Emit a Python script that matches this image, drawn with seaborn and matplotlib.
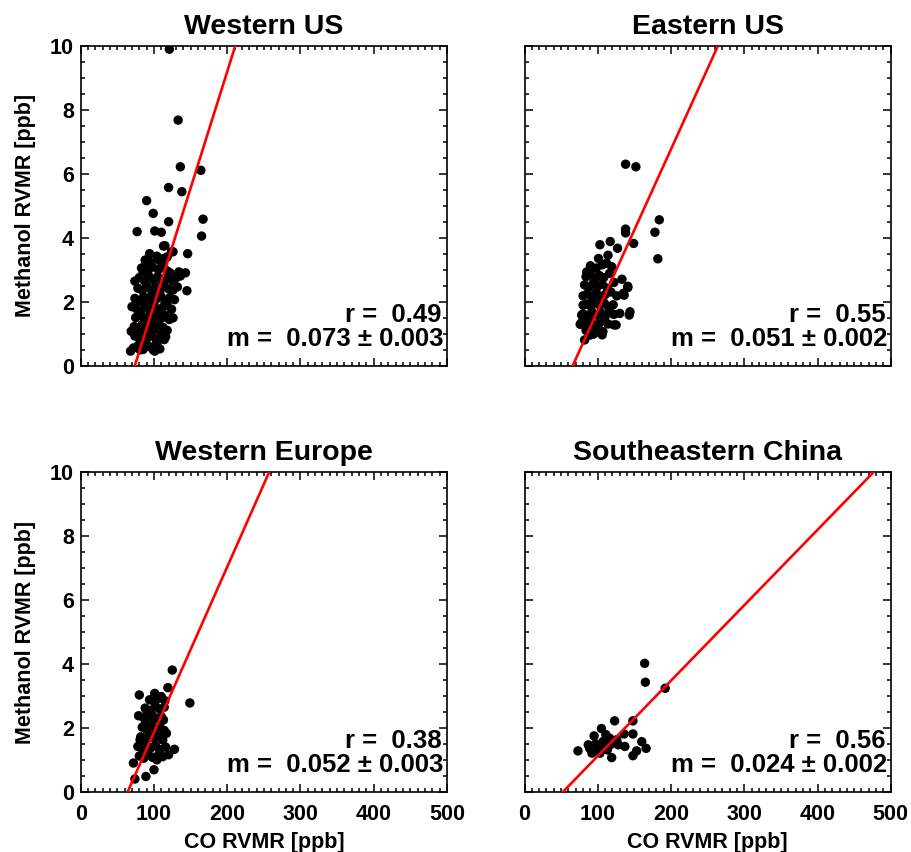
import numpy as np
import pandas as pd
import matplotlib
matplotlib.use("Agg")
import matplotlib.pyplot as plt
from matplotlib.ticker import MultipleLocator
import seaborn as sns

# ---------------- data ----------------
regions = ["Western US", "Eastern US", "Western Europe", "Southeastern China"]

wus_co = [121, 133, 136, 164, 120, 138, 90, 99, 167, 120, 77, 101, 110, 165, 115, 126, 94, 104, 146, 118,
          89, 85, 143, 134, 145, 74, 69, 68, 101, 114, 113, 124, 122, 136, 70, 81, 99, 126,
          72, 78, 85, 90, 95, 104, 108,
          74, 80, 86, 92, 97, 103, 110, 116,
          73, 79, 84, 90, 95, 100, 106, 112, 118,
          75, 81, 87, 93, 98, 104, 110, 116, 121,
          76, 82, 88, 94, 100, 106, 112, 118, 124,
          74, 80, 86, 92, 97, 103, 109, 115, 121, 128,
          78, 84, 90, 96, 102, 108, 114, 120, 126, 132,
          80, 87, 93, 99, 105, 111, 117, 125, 130,
          83, 92, 98, 106, 112, 118,
          88, 96, 108, 113]
wus_meoh = [9.9, 7.68, 6.22, 6.11, 5.57, 5.44, 5.16, 4.76, 4.58, 4.5, 4.19, 4.21, 4.17, 4.05, 3.75, 3.56, 3.5, 3.42, 3.5, 3.4,
            3.16, 2.9, 2.9, 2.93, 2.34, 2.64, 1.07, 0.45, 0.45, 0.81, 3.74, 3.56, 2.9, 2.8, 1.84, 0.49, 0.49, 1.49,
            0.55, 0.62, 0.5, 0.66, 0.58, 0.7, 0.52,
            0.92, 0.85, 0.98, 0.88, 0.95, 0.82, 0.97, 0.9,
            1.22, 1.15, 1.28, 1.18, 1.3, 1.12, 1.25, 1.2, 1.1,
            1.5, 1.58, 1.45, 1.55, 1.42, 1.6, 1.48, 1.56, 1.44,
            1.78, 1.7, 1.85, 1.75, 1.9, 1.72, 1.82, 1.88, 1.76,
            2.1, 2.02, 2.15, 2.05, 2.2, 2.08, 2.18, 2.0, 2.12, 2.06,
            2.42, 2.35, 2.48, 2.38, 2.45, 2.32, 2.5, 2.4, 2.36, 2.46,
            2.75, 2.65, 2.8, 2.68, 2.78, 2.62, 2.72, 2.66, 2.74,
            3.05, 2.98, 3.08, 3.0, 3.12, 2.96,
            3.3, 3.22, 3.28, 3.35]

eus_co = [138, 152, 184, 178, 182, 138, 138, 149, 103, 117, 127, 101, 114, 85, 141, 136, 144, 125, 76, 130,
          119, 133, 141, 135, 80, 78, 143, 89, 107, 122, 82,
          88, 94, 100, 106, 84,
          78, 84, 90, 96, 102, 108, 114,
          80, 86, 92, 98, 104, 110, 116, 122,
          85, 91, 97, 103, 109, 115, 121,
          80, 86, 92, 98, 104, 110, 118, 126,
          82, 88, 94, 100, 106, 113, 122,
          84, 90, 96, 102, 108, 116,
          90, 98, 106, 112]
eus_meoh = [6.3, 6.22, 4.56, 4.17, 3.34, 4.27, 4.15, 3.82, 3.78, 3.88, 3.67, 3.35, 3.45, 2.93, 2.48, 2.2, 1.68, 1.27, 1.29, 1.63,
            3.09, 2.7, 2.44, 2.26, 1.89, 1.58, 1.58, 0.95, 1.06, 1.27, 0.8,
            1.02, 0.98, 1.05, 0.96, 1.1,
            1.35, 1.28, 1.38, 1.25, 1.32, 1.4, 1.3,
            1.62, 1.55, 1.68, 1.58, 1.65, 1.52, 1.7, 1.6,
            1.92, 1.85, 1.98, 1.88, 1.95, 1.82, 1.9,
            2.18, 2.25, 2.12, 2.28, 2.15, 2.22, 2.3, 2.18,
            2.52, 2.45, 2.58, 2.48, 2.55, 2.42, 2.6,
            2.78, 2.85, 2.72, 2.82, 2.75, 2.88,
            3.12, 3.05, 3.15, 3.2]

weu_co = [125, 119, 80, 149, 101, 110, 79, 90, 113, 88, 117, 81, 128, 120, 72, 100, 89, 74, 88, 104,
          80, 86, 92, 98, 106, 112,
          78, 84, 90, 96, 102, 108, 116,
          82, 88, 94, 100, 106, 112,
          84, 90, 96, 102, 108, 114,
          86, 92, 98, 104, 110,
          88, 96, 102, 108, 114,
          94, 100, 106, 115]
weu_meoh = [3.81, 3.26, 3.03, 2.78, 3.08, 2.98, 2.38, 2.41, 2.25, 2.13, 1.83, 1.63, 1.33, 1.16, 0.9, 0.69, 0.48, 0.4, 1.16, 1.0,
            1.12, 1.05, 1.18, 1.08, 1.15, 1.1,
            1.42, 1.35, 1.48, 1.38, 1.45, 1.32, 1.4,
            1.72, 1.65, 1.78, 1.68, 1.75, 1.62,
            2.02, 1.95, 2.08, 1.98, 2.05, 1.92,
            2.32, 2.25, 2.38, 2.28, 2.35,
            2.62, 2.55, 2.68, 2.58, 2.65,
            2.88, 2.82, 2.92, 2.85]

sec_co = [164, 165, 192, 123, 148, 105, 95, 111, 136, 148, 116, 126, 87, 97, 107, 105, 117, 128, 137, 160,
          73, 166, 92, 103, 113, 153, 148, 119, 89, 98]
sec_meoh = [4.02, 3.43, 3.24, 2.22, 2.22, 1.98, 1.75, 1.79, 1.81, 1.81, 1.68, 1.63, 1.47, 1.5, 1.57, 1.42, 1.47, 1.47, 1.42, 1.57,
            1.28, 1.36, 1.21, 1.21, 1.31, 1.28, 1.13, 1.07, 1.36, 1.33]

r_values = [0.49, 0.55, 0.38, 0.56]
slopes = [0.073, 0.051, 0.052, 0.024]
slope_errs = [0.003, 0.002, 0.003, 0.002]
# fitted-line parameters as drawn (slope, intercept)
line_slopes = [0.073, 0.0505, 0.0518, 0.0236]
line_intercepts = [-5.40, -3.33, -3.32, -1.24]

co_data = [wus_co, eus_co, weu_co, sec_co]
meoh_data = [wus_meoh, eus_meoh, weu_meoh, sec_meoh]

x_ticks = [0, 100, 200, 300, 400, 500]
y_ticks = [0, 2, 4, 6, 8, 10]

# ---------------- style ----------------
sns.set_theme(style="ticks")
plt.rcParams['font.family'] = ['Liberation Sans', 'DejaVu Sans']
plt.rcParams['font.weight'] = 'bold'
plt.rcParams['axes.labelweight'] = 'bold'
plt.rcParams['axes.titleweight'] = 'bold'
for key in ['text.color', 'axes.labelcolor', 'xtick.color', 'ytick.color', 'axes.edgecolor']:
    plt.rcParams[key] = 'black'

W, H = 912, 852
fig = plt.figure(figsize=(W / 100, H / 100), dpi=100)

lefts = [80.7, 524.5, 80.7, 524.5]
tops = [46.0, 46.0, 472.3, 472.3]
aw, ah = 366.3, 319.5

for i, name in enumerate(regions):
    ax = fig.add_axes([lefts[i] / W, 1 - (tops[i] + ah) / H, aw / W, ah / H])
    df = pd.DataFrame({"co": co_data[i], "meoh": meoh_data[i]})
    sns.scatterplot(data=df, x="co", y="meoh", ax=ax, color="black", s=46,
                    edgecolor="none", linewidth=0, zorder=2)
    xl = np.array([0.0, 500.0])
    ldf = pd.DataFrame({"x": xl, "y": line_slopes[i] * xl + line_intercepts[i]})
    sns.lineplot(data=ldf, x="x", y="y", ax=ax, color="red", linewidth=1.9, zorder=3)

    ax.set_xlim(0, 500)
    ax.set_ylim(0, 10)
    ax.set_xticks(x_ticks)
    ax.set_yticks(y_ticks)
    ax.xaxis.set_minor_locator(MultipleLocator(10))
    ax.yaxis.set_minor_locator(MultipleLocator(0.5))
    ax.tick_params(which="both", direction="in", top=True, right=True,
                   color="black", width=1.1, labelcolor="black")
    ax.tick_params(which="major", length=5.5, labelsize=15.5, pad=9)
    ax.tick_params(axis="y", which="major", pad=5)
    ax.tick_params(which="minor", length=2.6)
    for sp in ax.spines.values():
        sp.set_linewidth(1.2)
        sp.set_color("black")
        sp.set_visible(True)

    ax.set_title(name, fontsize=20.5, fontweight="bold", pad=9, color="black")

    if i >= 2:
        ax.set_xlabel("CO RVMR [ppb]", fontsize=15.5, fontweight="bold", labelpad=5)
    else:
        ax.set_xlabel("")
        ax.set_xticklabels([])
    if i % 2 == 0:
        ax.set_ylabel("Methanol RVMR [ppb]", fontsize=15.5, fontweight="bold", labelpad=10)
    else:
        ax.set_ylabel("")
        ax.set_yticklabels([])

    ax.text(493, 1.36, f"r =  {r_values[i]:.2f}", ha="right", va="baseline",
            fontsize=18.5, fontweight="bold")
    ax.text(495, 0.62, f"m =  {slopes[i]:.3f} \u00b1 {slope_errs[i]:.3f}", ha="right",
            va="baseline", fontsize=18.5, fontweight="bold")

fig.savefig("out.png", dpi=100)
